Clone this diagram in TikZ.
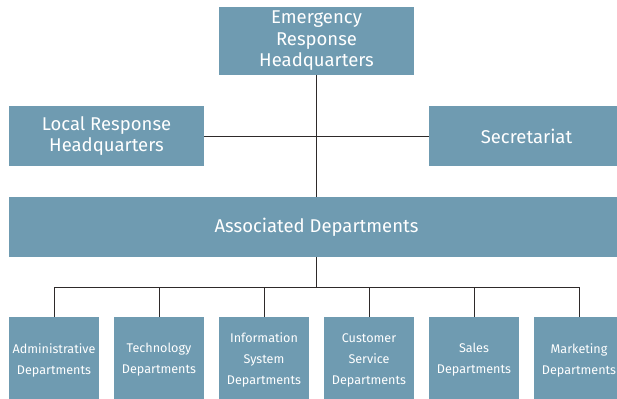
\documentclass[tikz,border=0pt]{standalone}
\usepackage{xcolor}
\usepackage{fontspec}
\setmainfont{Fira Sans}
\usepackage{tikz}

\definecolor{cajaazul}{HTML}{6F9BB1}
\definecolor{linea}{HTML}{2E2A2A}

\tikzset{
  caja/.style={fill=cajaazul, text=white, align=center, inner sep=0pt,
    font=\fontsize{18.5}{21.5}\selectfont},
  cajita/.style={caja, minimum width=90pt, minimum height=86pt,
    font=\fontsize{12.6}{21}\selectfont},
  enlace/.style={draw=linea, line width=0.8pt}
}

\begin{document}
\begin{tikzpicture}[x=1pt,y=1pt]

    % Marco
    \useasboundingbox (0,0) rectangle (617,-398);
    \clip (0,0) rectangle (617,-398);

    % Cajas superiores
    \node[caja, minimum width=195pt, minimum height=68pt] (emerg) at (316.5,-41)
      {Emergency\\Response\\Headquarters};
    \node[caja, minimum width=195pt, minimum height=60pt] (local) at (106.5,-136)
      {Local Response\\Headquarters};
    \node[caja, minimum width=195pt, minimum height=60pt] (secre) at (526.5,-136)
      {Secretariat};
    \node[caja, minimum width=615pt, minimum height=60pt] (asoc) at (316.5,-227)
      {Associated Departments};

    % Lineas centrales
    \draw[enlace] (emerg.south) -- (asoc.north);
    \draw[enlace] (local.east) -- (secre.west);

    % Departamentos
    \node[cajita] (admin) at (54,-360) {Administrative\\Departments};
    \node[cajita] (tecno) at (159,-360) {Technology\\Departments};
    \node[cajita] (infor) at (264,-360) {Information\\System\\Departments};
    \node[cajita] (clien) at (369,-360) {Customer\\Service\\Departments};
    \node[cajita] (venta) at (474,-360) {Sales\\Departments};
    \node[cajita] (marke) at (579,-360) {Marketing\\Departments};

    % Bus inferior
    \coordinate (bus) at (316.5,-287);
    \draw[enlace] (asoc.south) -- (bus);
    \draw[enlace] (admin.north |- bus) -- (marke.north |- bus);
    \foreach \d in {admin,tecno,infor,clien,venta,marke}
      \draw[enlace] (\d.north |- bus) -- (\d.north);

\end{tikzpicture}
\end{document}
